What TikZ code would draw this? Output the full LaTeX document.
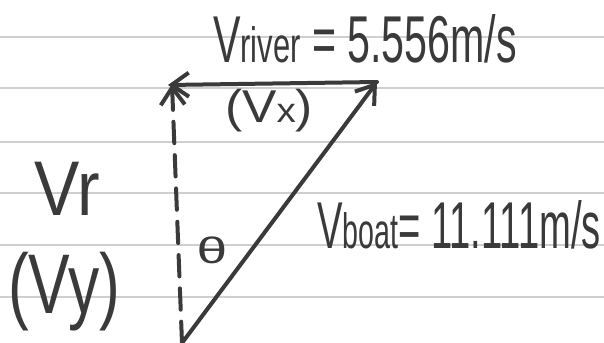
\documentclass[tikz,border=0pt]{standalone}
\usepackage{fontspec}
\setmainfont{Liberation Sans}
\usetikzlibrary{arrows.meta}
\definecolor{ink}{HTML}{3A3A3A}
\definecolor{rule}{HTML}{CFCFCF}
\newcommand{\smallpart}[1]{{\fontsize{30}{34}\selectfont #1}}
\begin{document}
\begin{tikzpicture}[x=0.75pt,y=-0.75pt,
  ink line/.style={draw=ink,line width=3pt,line cap=round},
  hw/.style={text=ink,inner sep=0pt,anchor=base,font=\fontsize{40}{44}\selectfont},
  paper/.style={draw=rule,line width=1.3pt},
  barb/.style={-{Straight Barb[length=13pt,width=18pt,line width=3pt]}}]
\useasboundingbox (0,0) rectangle (604,343);
\fill[white] (0,0) rectangle (604,343);
% ruled paper
\foreach \yy in {37,88,142,193,245,297}
  \draw[paper] (0,\yy) -- (604,\yy);
% vector end points
\coordinate (O) at (182,343);
\coordinate (T) at (172,84);
\coordinate (L) at (168,85);
\coordinate (R) at (377,82);
% vectors
\draw[ink line,dash pattern=on 16pt off 9pt,barb] (O) -- (T);
\draw[ink line,barb] (R) -- (L);
\draw[ink line,barb] (O) -- (R);
% labels
\node[hw] (vriver) at (365,62) {\resizebox{228pt}{36pt}{V\smallpart{river} = 5.556m/s}};
\node[hw] (vx) at (269,122) {\resizebox{66pt}{25pt}{(V\smallpart{x})}};
\node[hw] (vr) at (67,215) {\resizebox{49pt}{40pt}{Vr}};
\node[hw] (vy) at (64,313) {\resizebox{84pt}{46pt}{(Vy)}};
\node[hw] (theta) at (212,263) {\resizebox{23pt}{20pt}{θ}};
\node[hw] (vboat) at (459,248) {\resizebox{213pt}{36pt}{V\smallpart{boat}= 11.111m/s}};
\end{tikzpicture}
\end{document}
